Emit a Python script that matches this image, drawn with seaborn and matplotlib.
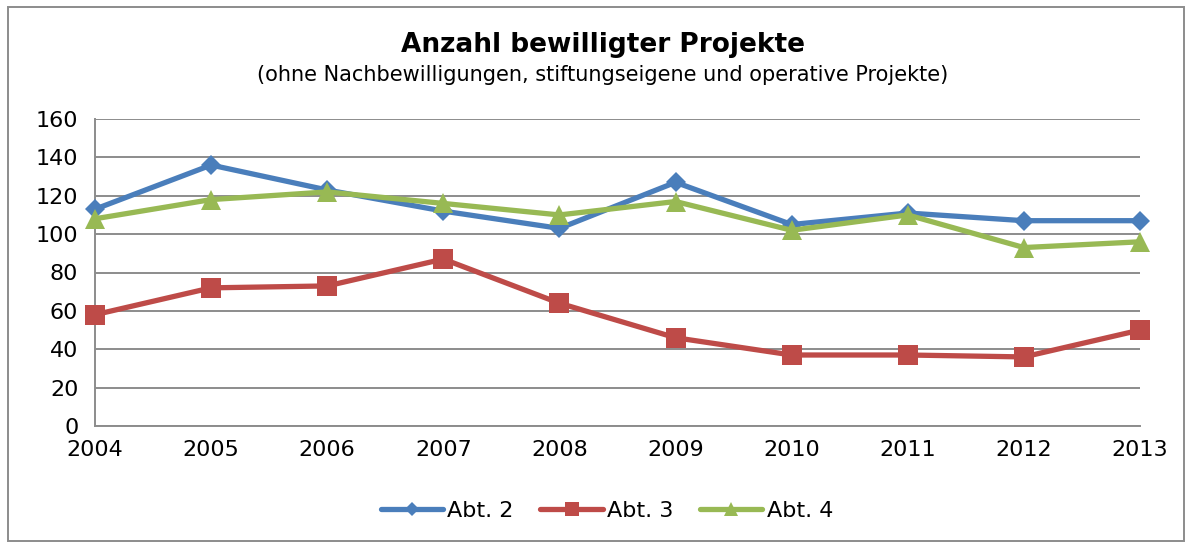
import matplotlib
matplotlib.use('Agg')
import matplotlib.pyplot as plt
import matplotlib.patches as mpatches
import pandas as pd
import seaborn as sns

years = [2004, 2005, 2006, 2007, 2008, 2009, 2010, 2011, 2012, 2013]
abt2 = [113, 136, 123, 112, 103, 127, 105, 111, 107, 107]
abt3 = [58, 72, 73, 87, 64, 46, 37, 37, 36, 50]
abt4 = [108, 118, 122, 116, 110, 117, 102, 110, 93, 96]
series_names = ['Abt. 2', 'Abt. 3', 'Abt. 4']

title = 'Anzahl bewilligter Projekte'
subtitle = '(ohne Nachbewilligungen, stiftungseigene und operative Projekte)'


def main():
    """Draw the line chart of approved projects per department."""
    sns.set_style('white')
    plt.rcParams['font.family'] = ['DejaVu Sans']
    plt.rcParams['text.color'] = 'black'

    df = pd.DataFrame({'Jahr': years, 'Abt. 2': abt2,
                       'Abt. 3': abt3, 'Abt. 4': abt4})
    long_df = df.melt(id_vars='Jahr', var_name='Abteilung', value_name='Anzahl')

    fig = plt.figure(figsize=(11.89, 5.42), dpi=100)
    ax = fig.add_axes([95 / 1189, 1 - 426 / 542, 1045 / 1189, 307 / 542])

    colors = {'Abt. 2': '#4A7EBB', 'Abt. 3': '#BE4B48', 'Abt. 4': '#98B954'}
    markers = {'Abt. 2': 'D', 'Abt. 3': 's', 'Abt. 4': '^'}
    sizes = {'Abt. 2': 10, 'Abt. 3': 14, 'Abt. 4': 15}
    for name in series_names:
        sub = long_df[long_df['Abteilung'] == name]
        sns.lineplot(data=sub, x='Jahr', y='Anzahl', ax=ax, color=colors[name],
                     linewidth=3.8, marker=markers[name],
                     markersize=sizes[name], markeredgewidth=0,
                     label=name, clip_on=False, zorder=3)

    ax.set_xlim(2004, 2013)
    ax.set_ylim(0, 160)
    ax.set_xticks(years)
    ax.set_yticks(range(0, 161, 20))
    ax.set_xlabel('')
    ax.set_ylabel('')
    ax.grid(axis='y', color='#8c8c8c', linewidth=1.4)
    ax.set_axisbelow(True)
    for side in ['top', 'right']:
        ax.spines[side].set_visible(False)
    for side in ['left', 'bottom']:
        ax.spines[side].set_color('#8c8c8c')
        ax.spines[side].set_linewidth(1.4)
    ax.tick_params(axis='both', labelsize=16, colors='#8c8c8c',
                   labelcolor='black', length=6, width=1.4, direction='out')
    ax.tick_params(axis='y', pad=6)
    ax.tick_params(axis='x', pad=4)

    fig.text(603 / 1189, 1 - 45 / 542, title, ha='center', va='center',
             fontsize=19, fontweight='bold', color='black')
    fig.text(603 / 1189, 1 - 75 / 542, subtitle, ha='center', va='center',
             fontsize=15, color='black')

    leg = ax.legend(loc='center', bbox_to_anchor=(607 / 1189, 1 - 511 / 542),
                    bbox_transform=fig.transFigure, ncol=3, frameon=False,
                    fontsize=16, handlelength=2.8, columnspacing=1.2,
                    handletextpad=0.2, markerscale=0.7)
    for txt in leg.get_texts():
        txt.set_color('black')

    fig.patches.append(mpatches.Rectangle(
        (8 / 1189, 0.002), 1176 / 1189, 1 - 7 / 542 - 0.002,
        transform=fig.transFigure, fill=False, edgecolor='#8c8c8c',
        linewidth=1.4))

    fig.savefig('out.png', dpi=100)


if __name__ == '__main__':
    main()
